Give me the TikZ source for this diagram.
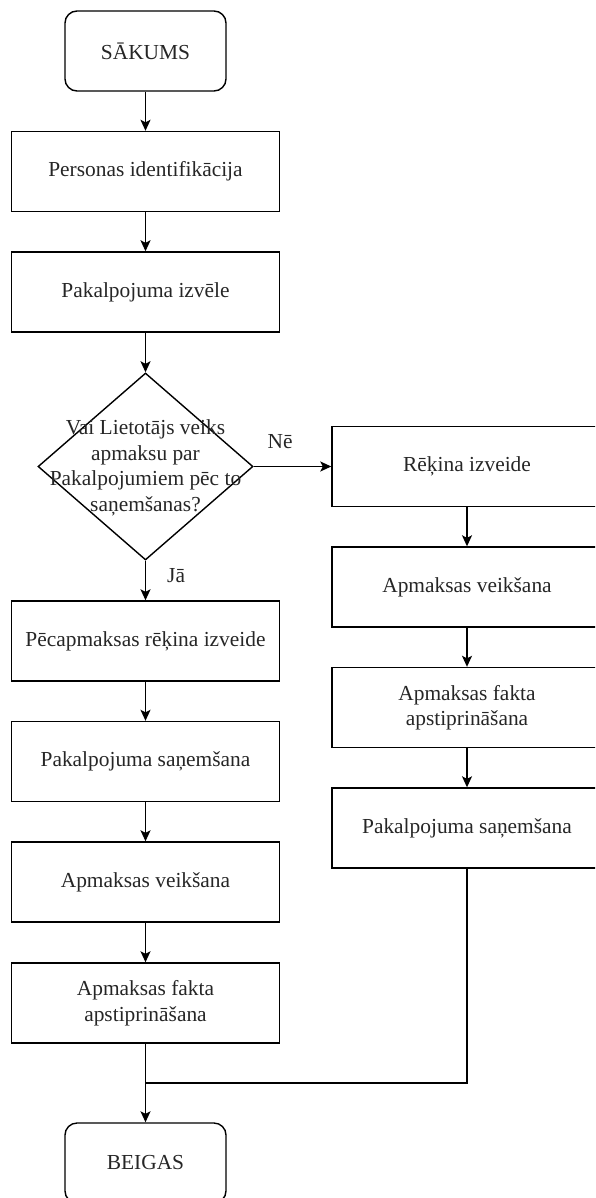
\documentclass[tikz,border=0pt]{standalone}
\usepackage{fontspec}
\setmainfont{Liberation Serif}
\usetikzlibrary{shapes.geometric,arrows.meta}
\begin{document}
\begin{tikzpicture}[x=1pt,y=-1pt,
  txtfont/.style={font=\fontsize{21.4}{25.5}\selectfont},
  box/.style={draw, line width=1.4pt, minimum width=268pt, minimum height=80pt, inner sep=0pt, align=center, txtfont, text=black!85},
  term/.style={box, rounded corners=12pt, minimum width=161pt},
  decision/.style={draw, diamond, line width=1.4pt, minimum width=215pt, minimum height=187pt, inner sep=0pt},
  dectext/.style={align=center, inner sep=0pt, txtfont, text=black!85},
  lbl/.style={inner sep=0pt, txtfont, text=black!85},
  conn/.style={line width=1.4pt},
  arr/.style={line width=1.4pt, -{Stealth[length=11pt,width=10pt,inset=2.5pt]}}]
\path[use as bounding box] (0,0) rectangle (595,1198);
\clip (0,0) rectangle (595,1198);

% left column
\node[term] (start) at (145.5,51) {SĀKUMS};
\node[box] (p1) at (145.5,171.5) {Personas identifikācija};
\node[box] (p2) at (145.5,292) {Pakalpojuma izvēle};
\node[decision] (dec) at (145.5,466.5) {};
\node[dectext] (dect) at (145.5,468) {Vai Lietotājs veiks\\apmaksu par\\Pakalpojumiem pēc to\\saņemšanas?};
\node[box] (l1) at (145.5,641) {Pēcapmaksas rēķina izveide};
\node[box] (l2) at (145.5,761.5) {Pakalpojuma saņemšana};
\node[box] (l3) at (145.5,882) {Apmaksas veikšana};
\node[box] (l4) at (145.5,1003) {Apmaksas fakta\\apstiprināšana};
\node[term] (end) at (145.5,1163) {BEIGAS};

% right column
\node[box, minimum width=270pt] (r1) at (467,466.5) {Rēķina izveide};
\node[box, minimum width=270pt] (r2) at (467,587) {Apmaksas veikšana};
\node[box, minimum width=270pt] (r3) at (467,707.5) {Apmaksas fakta\\apstiprināšana};
\node[box, minimum width=270pt] (r4) at (467,828) {Pakalpojuma saņemšana};

\coordinate (m) at (145.5,1083);

% connectors
\draw[arr] (start) -- (p1);
\draw[arr] (p1) -- (p2);
\draw[arr] (p2) -- (dec.north);
\draw[arr] (dec.south) -- node[lbl, pos=0.37, anchor=west, xshift=21pt] {Jā} (l1);
\draw[arr] (dec.east) -- node[lbl, pos=0.34, anchor=south, yshift=17pt] {Nē} (r1.west);
\draw[arr] (l1) -- (l2);
\draw[arr] (l2) -- (l3);
\draw[arr] (l3) -- (l4);
\draw[arr] (r1) -- (r2);
\draw[arr] (r2) -- (r3);
\draw[arr] (r3) -- (r4);
\draw[conn] (l4.south) -- (m);
\draw[conn] (r4.south) |- (m);
\draw[arr] (m) -- (end);
\end{tikzpicture}
\end{document}
